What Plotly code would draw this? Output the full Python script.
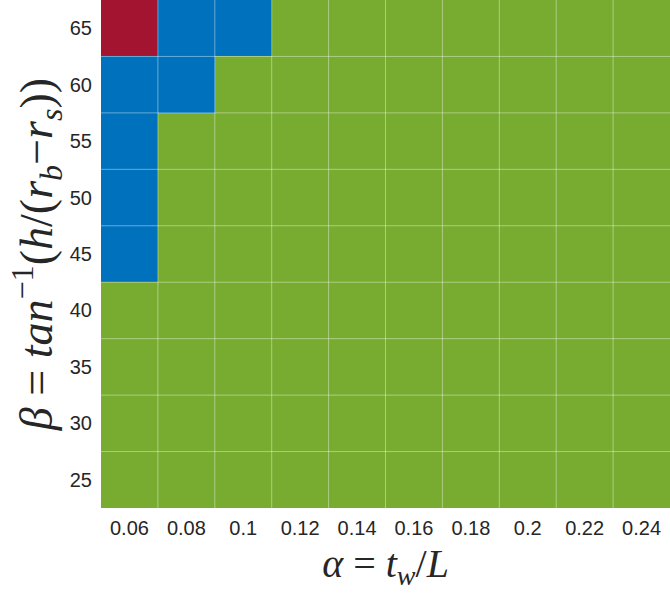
import plotly.graph_objects as go

# Parameter grid
alpha = ["0.06", "0.08", "0.1", "0.12", "0.14", "0.16", "0.18", "0.2", "0.22", "0.24"]
beta = ["25", "30", "35", "40", "45", "50", "55", "60", "65"]

# Region index per cell (0 = green, 1 = blue, 2 = red), rows follow beta
region = [
    [0, 0, 0, 0, 0, 0, 0, 0, 0, 0],  # 25
    [0, 0, 0, 0, 0, 0, 0, 0, 0, 0],  # 30
    [0, 0, 0, 0, 0, 0, 0, 0, 0, 0],  # 35
    [0, 0, 0, 0, 0, 0, 0, 0, 0, 0],  # 40
    [1, 0, 0, 0, 0, 0, 0, 0, 0, 0],  # 45
    [1, 0, 0, 0, 0, 0, 0, 0, 0, 0],  # 50
    [1, 0, 0, 0, 0, 0, 0, 0, 0, 0],  # 55
    [1, 1, 0, 0, 0, 0, 0, 0, 0, 0],  # 60
    [2, 1, 1, 0, 0, 0, 0, 0, 0, 0],  # 65
]

green, blue, red = "#77AC30", "#0072BD", "#A2142F"
colorscale = [[0, green], [0.333, green], [0.334, blue], [0.666, blue], [0.667, red], [1, red]]

fig = go.Figure(go.Heatmap(
    x=alpha, y=beta, z=region,
    colorscale=colorscale, zmin=0, zmax=2,
    showscale=False,
))

# faint white lines between cells
grid = dict(color="rgba(255,255,255,0.4)", width=1)
for i in range(1, len(alpha)):
    fig.add_shape(type="line", xref="x", yref="paper", x0=i - 0.5, x1=i - 0.5, y0=0, y1=1, line=grid)
for j in range(1, len(beta)):
    fig.add_shape(type="line", xref="paper", yref="y", x0=0, x1=1, y0=j - 0.5, y1=j - 0.5, line=grid)

tick_font = dict(family="Liberation Sans, Arial", size=20, color="#262626")

fig.update_xaxes(
    type="category", showgrid=False, zeroline=False, ticks="",
    tickfont=tick_font, ticklabelstandoff=6,
    title=dict(text="<i>α</i> = <i>t<sub>w</sub></i>/<i>L</i>",
               font=dict(family="Liberation Serif, DejaVu Serif", size=40, color="#262626"), standoff=10),
)
fig.update_yaxes(
    type="category", showgrid=False, zeroline=False, ticks="",
    tickfont=tick_font, ticklabelstandoff=8,
    title=dict(
        text="<i>β</i> = <i>tan</i><sup>−1</sup>(<i>h</i>/(<i>r<sub>b</sub></i>−<i>r<sub>s</sub></i>))",
        font=dict(family="Liberation Serif, DejaVu Serif", size=46, color="#262626"), standoff=2,
    ),
)

fig.update_layout(
    width=670, height=604,
    margin=dict(l=101, r=0, t=0, b=96),
    paper_bgcolor="white", plot_bgcolor="white",
)

fig.write_html("out.html", config={"displayModeBar": False},
               post_script="document.body.style.margin='0';")
